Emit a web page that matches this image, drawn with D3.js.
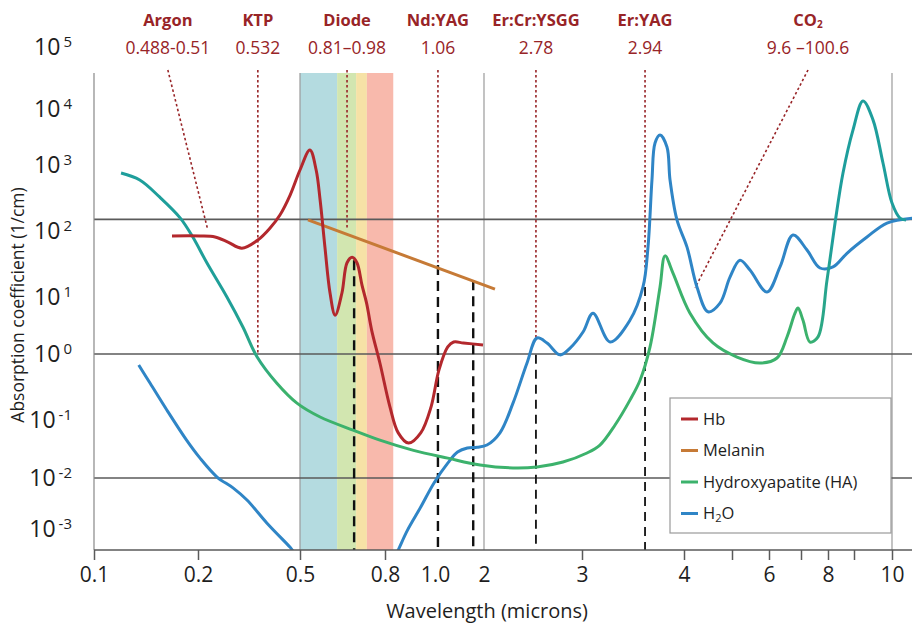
<!DOCTYPE html>
<html>
<head>
<meta charset="utf-8">
<script src="https://cdn.jsdelivr.net/npm/d3@7"></script>
<style>
  body { margin: 0; background: #fff; }
  text { font-family: "Open Sans", "Noto Sans", sans-serif; }
</style>
</head>
<body>
<svg id="chart" width="912" height="625"></svg>
<script>
// ---- data (wavelength in microns, absorption coefficient in 1/cm) ----
const xTickValues = [0.1, 0.2, 0.5, 0.8, 1, 2, 3, 4, 5, 6, 7, 8, 9, 10];
const xTickLabels = ["0.1", "0.2", "0.5", "0.8", "1.0", "2", "3", "4", "", "6", "", "8", "", "10"];
const yTickValues = [1e5, 1e4, 1e3, 1e2, 1e1, 1e0, 1e-1, 1e-2, 1e-3];
const refLines = [150, 1, 0.01];
const gridWavelengths = [0.5, 2, 10];

const hb = [
  [0.175, 84], [0.206, 84], [0.25, 81], [0.288, 68], [0.329, 55], [0.376, 73],
  [0.412, 111], [0.441, 175], [0.471, 351], [0.5, 840], [0.535, 1850], [0.557, 840],
  [0.571, 295], [0.588, 57], [0.606, 11.5], [0.624, 4.8], [0.648, 11.5], [0.666, 33],
  [0.684, 40], [0.701, 33], [0.719, 15], [0.735, 7.8], [0.753, 2.6], [0.782, 0.73],
  [0.82, 0.157], [0.853, 0.06], [0.894, 0.04], [0.943, 0.06], [0.984, 0.157],
  [1.08, 0.57], [1.26, 1.33], [1.38, 1.62], [1.58, 1.56], [1.98, 1.44]
];
const melanin = [[0.528, 147], [2.112, 13.2]];
const hydroxyapatite = [
  [0.126, 757], [0.144, 593], [0.163, 328], [0.183, 157], [0.195, 81], [0.226, 33],
  [0.285, 10], [0.332, 2.98], [0.374, 0.9], [0.432, 0.36], [0.491, 0.18], [0.571, 0.111],
  [0.687, 0.067], [0.782, 0.045], [0.914, 0.030], [1.26, 0.022], [1.92, 0.0168],
  [2.296, 0.0149], [2.541, 0.0155], [2.806, 0.0189], [3.049, 0.027], [3.176, 0.037],
  [3.324, 0.082], [3.47, 0.2], [3.569, 0.4], [3.667, 1.33], [3.765, 14.2], [3.814, 42],
  [3.892, 23], [4.125, 5.2], [4.604, 1.56], [5.135, 0.9], [5.757, 0.73], [6.25, 0.87],
  [6.5625, 1.99], [6.8125, 5.2], [6.906, 6.4], [7.074, 3.9], [7.333, 1.62], [7.63, 2.0],
  [7.963, 18], [8.27, 132], [8.577, 757], [8.96, 4200], [9.237, 13500], [9.5, 6400],
  [9.763, 1085], [10.0, 265], [10.21, 157], [10.37, 147]
];
const water = [
  [0.143, 0.68], [0.154, 0.36], [0.170, 0.142], [0.189, 0.045], [0.206, 0.022],
  [0.256, 0.0104], [0.303, 0.0064], [0.344, 0.0037], [0.403, 0.0013], [0.471, 0.00044],
  [0.494, 0.0003], [0.841, 0.0003], [0.853, 0.00039], [0.890, 0.00095], [0.943, 0.0027],
  [0.996, 0.008], [1.26, 0.018], [1.46, 0.028], [1.66, 0.033], [1.86, 0.034], [2.03, 0.037],
  [2.163, 0.06], [2.296, 0.18], [2.439, 0.73], [2.541, 1.91], [2.643, 1.56], [2.776, 0.97],
  [2.878, 1.27], [3.01, 2.43], [3.108, 5.2], [3.275, 1.63], [3.471, 3.94], [3.598, 14.2],
  [3.647, 57], [3.686, 593], [3.716, 2470], [3.765, 3430], [3.833, 2100], [3.863, 593],
  [3.931, 147], [4.063, 57], [4.27, 14.2], [4.5, 5.5], [4.75, 7.8], [4.958, 20],
  [5.216, 36], [5.486, 25.6], [5.946, 11.9], [6.344, 28.5], [6.75, 87], [7.222, 51.5],
  [7.704, 27.5], [8.192, 28.5], [8.73, 46], [9.342, 81], [9.868, 132], [10.55, 157]
];
const seriesNames = ["Hb", "Melanin", "Hydroxyapatite (HA)", "H2O"];

const laserNames = ["Argon", "KTP", "Diode", "Nd:YAG", "Er:Cr:YSGG", "Er:YAG", "CO2"];
const laserRanges = ["0.488-0.51", "0.532", "0.81\u20130.98", "1.06", "2.78", "2.94", "9.6 \u2013100.6"];
const laserLabelAt = [0.171, 0.376, 0.666, 1.06, 2.53, 3.618, 7.26];
const laserLeadEnd = [[0.229, 103], [0.376, 1], [0.666, 111], [1.06, 33], [2.53, 1.76], [3.618, 25.6], [4.229, 13.7]];
const dropLines = [[0.691, 36], [1.06, 30.5], [1.78, 18], [2.53, 0.97], [3.618, 14.2]];
const diodeBands = [[0.5, 0.631], [0.631, 0.698], [0.698, 0.736], [0.736, 0.833]];

// ---- layout / styles ----
const W = 912, H = 625;
const m = { left: 94, right: 912, top: 73, bottom: 550 };
const seriesColors = ["#b3282d", "#c67a36", "#3cb26c", "#2f85c6"];
const bandColors = ["#b4dbe0", "#d2e6b0", "#f6e2a6", "#f8b9ac"];
const laserRed = "#982427";

const svg = d3.select("#chart");

// piecewise axis as drawn in the figure
const x = d3.scaleLinear()
  .domain(xTickValues)
  .range([94, 198, 300, 385, 435, 484, 582, 684, 732, 769, 801, 828, 854, 892]);

const y = d3.scaleLog()
  .domain(yTickValues)
  .range([47, 109, 165, 231, 297, 354, 420, 478, 529]);

svg.append("defs").append("clipPath").attr("id", "plot")
  .append("rect")
  .attr("x", m.left).attr("y", 40)
  .attr("width", m.right - m.left).attr("height", m.bottom - 40);

// diode bands
svg.append("g").selectAll("rect")
  .data(diodeBands)
  .join("rect")
  .attr("x", d => x(d[0]))
  .attr("width", d => x(d[1]) - x(d[0]))
  .attr("y", m.top)
  .attr("height", m.bottom - m.top)
  .attr("fill", (d, i) => bandColors[i]);

// vertical grid lines
svg.append("g").selectAll("line")
  .data(gridWavelengths)
  .join("line")
  .attr("x1", d => x(d)).attr("x2", d => x(d))
  .attr("y1", m.top).attr("y2", m.bottom)
  .attr("stroke", "#9a9a9a").attr("stroke-width", 1.2);

// horizontal reference lines
svg.append("g").selectAll("line")
  .data(refLines)
  .join("line")
  .attr("x1", m.left).attr("x2", m.right)
  .attr("y1", d => y(d)).attr("y2", d => y(d))
  .attr("stroke", "#5a5a5a").attr("stroke-width", 1.6);

// black dashed drop lines
svg.append("g").selectAll("line")
  .data(dropLines)
  .join("line")
  .attr("x1", d => x(d[0])).attr("x2", d => x(d[0]))
  .attr("y1", d => y(d[1])).attr("y2", m.bottom)
  .attr("stroke", "#111")
  .attr("stroke-width", (d, i) => i >= 3 ? 1.8 : 2.4)
  .attr("stroke-dasharray", (d, i) => i >= 3 ? "9,6" : "10,6");

// red dotted leader lines from laser labels
svg.append("g").selectAll("line")
  .data(laserLeadEnd)
  .join("line")
  .attr("x1", (d, i) => x(laserLabelAt[i])).attr("y1", 70)
  .attr("x2", d => x(d[0])).attr("y2", d => y(d[1]))
  .attr("stroke", laserRed)
  .attr("stroke-width", 1.6)
  .attr("stroke-dasharray", "2.5,2.5");

// HA gradient (teal at the ends, green in the middle)
const grad = svg.select("defs").append("linearGradient")
  .attr("id", "haGrad")
  .attr("gradientUnits", "userSpaceOnUse")
  .attr("x1", x(0.12)).attr("x2", x(10.5)).attr("y1", 0).attr("y2", 0);
const gx0 = x(0.12), gx1 = x(10.5);
[[0.12, "#1e9e9c"], [0.3, "#1f9f98"], [0.45, "#3cb26c"], [7.3, "#3cb26c"], [8.2, "#1e9e9c"], [10.5, "#1e9e9c"]]
  .forEach(s => grad.append("stop")
    .attr("offset", (x(s[0]) - gx0) / (gx1 - gx0))
    .attr("stop-color", s[1]));

const line = d3.line()
  .x(d => x(d[0]))
  .y(d => y(d[1]))
  .curve(d3.curveCatmullRom.alpha(0.5));

const curves = svg.append("g").attr("clip-path", "url(#plot)");
curves.append("path").datum(water)
  .attr("d", line).attr("fill", "none")
  .attr("stroke", seriesColors[3]).attr("stroke-width", 3);
curves.append("path").datum(hydroxyapatite)
  .attr("d", line).attr("fill", "none")
  .attr("stroke", "url(#haGrad)").attr("stroke-width", 3);
curves.append("path").datum(melanin)
  .attr("d", line).attr("fill", "none")
  .attr("stroke", seriesColors[1]).attr("stroke-width", 3);
curves.append("path").datum(hb)
  .attr("d", line).attr("fill", "none")
  .attr("stroke", seriesColors[0]).attr("stroke-width", 3);

// left axis line
svg.append("line")
  .attr("x1", m.left).attr("x2", m.left)
  .attr("y1", m.top).attr("y2", m.bottom)
  .attr("stroke", "#888").attr("stroke-width", 1.2);

// x axis
const xAxis = svg.append("g")
  .attr("transform", `translate(0,${m.bottom})`)
  .call(d3.axisBottom(x)
    .tickValues(xTickValues)
    .tickSize(10)
    .tickPadding(7)
    .tickFormat((d, i) => xTickLabels[i]));
xAxis.select(".domain")
  .attr("d", `M${m.left},0H${m.right}`)
  .attr("stroke", "#5a5a5a").attr("stroke-width", 1.5);
xAxis.selectAll(".tick line")
  .attr("stroke", "#5a5a5a").attr("stroke-width", 1.5)
  .attr("opacity", d => (d === 1 || d === 2) ? 0 : 1);
xAxis.selectAll(".tick text")
  .attr("font-size", 21).attr("fill", "#1e1e1e");

// y axis with superscript exponents
const yAxis = svg.append("g")
  .attr("transform", `translate(${m.left},0)`)
  .call(d3.axisLeft(y).tickValues(yTickValues).tickSize(0).tickPadding(22).tickFormat(""));
yAxis.select(".domain").remove();
yAxis.selectAll(".tick text")
  .attr("font-size", 23).attr("fill", "#1e1e1e")
  .each(function (d) {
    const t = d3.select(this);
    t.append("tspan").text("10");
    t.append("tspan")
      .attr("dy", "-0.5em").attr("dx", "3")
      .attr("font-size", 15)
      .text(Math.round(Math.log10(d)));
  });

// axis titles
svg.append("text")
  .attr("x", 487).attr("y", 618)
  .attr("text-anchor", "middle")
  .attr("font-size", 20).attr("fill", "#1e1e1e")
  .text("Wavelength (microns)");
svg.append("text")
  .attr("transform", "translate(24,305) rotate(-90)")
  .attr("text-anchor", "middle")
  .attr("font-size", 17.5).attr("fill", "#1e1e1e")
  .text("Absorption coefficient (1/cm)");

// laser labels
const labels = svg.append("g").selectAll("g")
  .data(laserNames)
  .join("g")
  .attr("transform", (d, i) => `translate(${x(laserLabelAt[i])},0)`);
labels.append("text")
  .attr("y", 26).attr("text-anchor", "middle")
  .attr("font-size", 16.5).attr("font-weight", "bold").attr("fill", laserRed)
  .each(function (d) {
    const t = d3.select(this);
    if (d === "CO2") {
      t.append("tspan").text("CO");
      t.append("tspan").attr("font-size", 10).attr("dy", 2).text("2");
    } else {
      t.text(d);
    }
  });
labels.append("text")
  .attr("y", 54).attr("text-anchor", "middle")
  .attr("font-size", 17.5).attr("fill", laserRed)
  .text((d, i) => laserRanges[i]);

// legend
const lg = svg.append("g").attr("transform", "translate(670,398)");
lg.append("rect")
  .attr("width", 221).attr("height", 135)
  .attr("fill", "#fff").attr("stroke", "#9a9a9a").attr("stroke-width", 1.2);
const items = lg.selectAll("g.item")
  .data(seriesNames)
  .join("g")
  .attr("class", "item")
  .attr("transform", (d, i) => `translate(0,${21 + i * 31.5})`);
items.append("line")
  .attr("x1", 11).attr("x2", 28)
  .attr("stroke", (d, i) => seriesColors[i]).attr("stroke-width", 3);
items.append("text")
  .attr("x", 33).attr("dy", "0.35em")
  .attr("font-size", 16.5).attr("fill", "#1e1e1e")
  .each(function (d) {
    const t = d3.select(this);
    if (d === "H2O") {
      t.append("tspan").text("H");
      t.append("tspan").attr("font-size", 11).attr("dy", 3).text("2");
      t.append("tspan").attr("dy", -3).text("O");
    } else {
      t.text(d);
    }
  });
</script>
</body>
</html>
